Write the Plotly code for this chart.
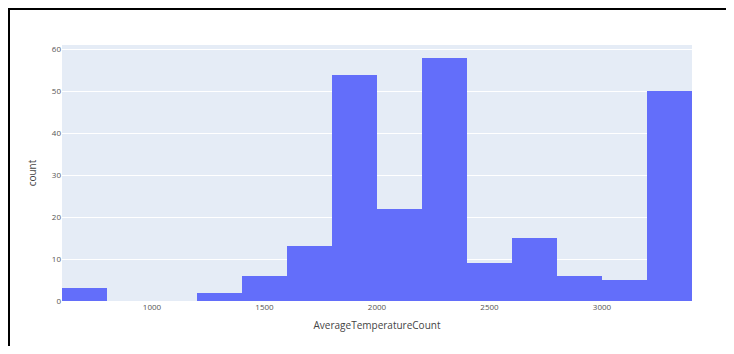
import plotly.graph_objects as go

bin_starts = [600, 800, 1000, 1200, 1400, 1600, 1800, 2000, 2200, 2400, 2600, 2800, 3000, 3200]
counts = [3, 0, 0, 2, 6, 13, 54, 22, 58, 9, 15, 6, 5, 50]
bin_size = 200
x_ticks = [1000, 1500, 2000, 2500, 3000]
y_ticks = [0, 10, 20, 30, 40, 50, 60]

centers = [s + bin_size / 2 for s in bin_starts]

fig = go.Figure(go.Bar(
    x=centers, y=counts, width=[bin_size] * len(centers),
    marker=dict(color="#636efa", line=dict(width=0)),
))

# page has an 8px body margin; figure coordinates = page coordinates - 8
W, H = 718, 338
ml, mr, mt, mb = 54, 34, 37, 45
pw, ph = W - ml - mr, H - mt - mb

def px_to_paper_x(px):
    return (px - ml) / pw

def px_to_paper_y(py):
    return (H - mb - py) / ph

xl, yb = px_to_paper_x(1), px_to_paper_y(H)
yt, xr = px_to_paper_y(1), px_to_paper_x(W)
border_path = f"M {xl},{yb} L {xl},{yt} L {xr},{yt}"

fig.update_layout(
    width=W, height=H,
    margin=dict(l=ml, r=mr, t=mt, b=mb),
    paper_bgcolor="white",
    plot_bgcolor="#e5ecf6",
    bargap=0,
    showlegend=False,
    font=dict(family="Open Sans, sans-serif", color="#444"),
    xaxis=dict(
        range=[600, 3400], tickvals=x_ticks, showgrid=False, zeroline=False,
        tickfont=dict(size=8, color="#555"),
        title=dict(text="AverageTemperatureCount", font=dict(size=10, color="#444"), standoff=10),
    ),
    yaxis=dict(
        range=[0, 61.05], tickvals=y_ticks, gridcolor="white", gridwidth=1, zeroline=False,
        tickfont=dict(size=8, color="#555"),
        title=dict(text="count", font=dict(size=10, color="#444"), standoff=13),
    ),
    shapes=[
        dict(type="path", xref="paper", yref="paper", layer="above",
             path=border_path, fillcolor="rgba(0,0,0,0)",
             line=dict(color="black", width=2)),
    ],
)

fig.write_html("out.html")
